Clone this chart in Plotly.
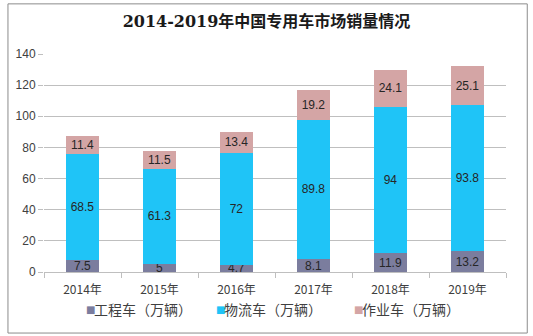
import plotly.graph_objects as go

years = ["2014年", "2015年", "2016年", "2017年", "2018年", "2019年"]
gongcheng = [7.5, 5, 4.7, 8.1, 11.9, 13.2]
wuliu = [68.5, 61.3, 72, 89.8, 94, 93.8]
zuoye = [11.4, 11.5, 13.4, 19.2, 24.1, 25.1]
names = ["工程车（万辆）", "物流车（万辆）", "作业车（万辆）"]
colors = ["#7b7d9e", "#1fc4f7", "#d4a5a5"]

fig = go.Figure()
for name, vals, col in zip(names, [gongcheng, wuliu, zuoye], colors):
    fig.add_trace(go.Bar(
        x=years, y=vals, name=name, marker=dict(color=col, line=dict(width=0)),
        text=[f"{v:g}" for v in vals], textposition="inside", insidetextanchor="middle",
        textangle=0, constraintext="none",
        textfont=dict(color="#262626", size=12, family="Liberation Sans, Arial"),
        width=0.42, showlegend=False,
    ))

fig.update_layout(
    barmode="stack",
    width=533, height=336,
    margin=dict(l=44, r=27, t=54, b=64),
    paper_bgcolor="white", plot_bgcolor="white",
    title=dict(text="<b>2014-2019年中国专用车市场销量情况</b>", x=0.5, xanchor="center",
               y=0.935, yanchor="middle",
               font=dict(family="DejaVu Serif, Noto Sans CJK SC", size=16, color="#1a1a1a")),
    uniformtext=dict(minsize=12, mode="show"),
    font=dict(family="Liberation Sans, Arial"),
)
fig.update_yaxes(range=[0, 140], dtick=20, showgrid=True, gridcolor="#bfbfbf", gridwidth=1,
                 ticks="outside", ticklen=5, tickcolor="#bfbfbf", zeroline=False,
                 showline=False, tickfont=dict(size=12, color="#404040"))
fig.update_xaxes(showline=True, linecolor="#bfbfbf", ticks="outside", tickson="boundaries",
                 ticklen=5, tickcolor="#bfbfbf", ticklabelstandoff=7,
                 tickfont=dict(family="Noto Sans CJK SC", size=12, color="#404040"))

# custom legend
leg_x = [0.0866, 0.368, 0.667]
for name, col, lx in zip(names, colors, leg_x):
    fig.add_annotation(xref="paper", yref="paper", x=lx, y=-0.17, xanchor="left", yanchor="middle",
                       text="■", showarrow=False, font=dict(size=10, color=col, family="DejaVu Sans"))
    fig.add_annotation(xref="paper", yref="paper", x=lx + 0.018, y=-0.17, xanchor="left", yanchor="middle",
                       text=name, showarrow=False,
                       font=dict(size=14, color="#404040", family="Noto Sans CJK SC"))

fig.add_shape(type="rect", xref="paper", yref="paper", x0=-0.078, x1=1.046, y0=-0.28, y1=1.23,
              line=dict(color="#8c8c8c", width=1))

fig.write_html("out.html")
